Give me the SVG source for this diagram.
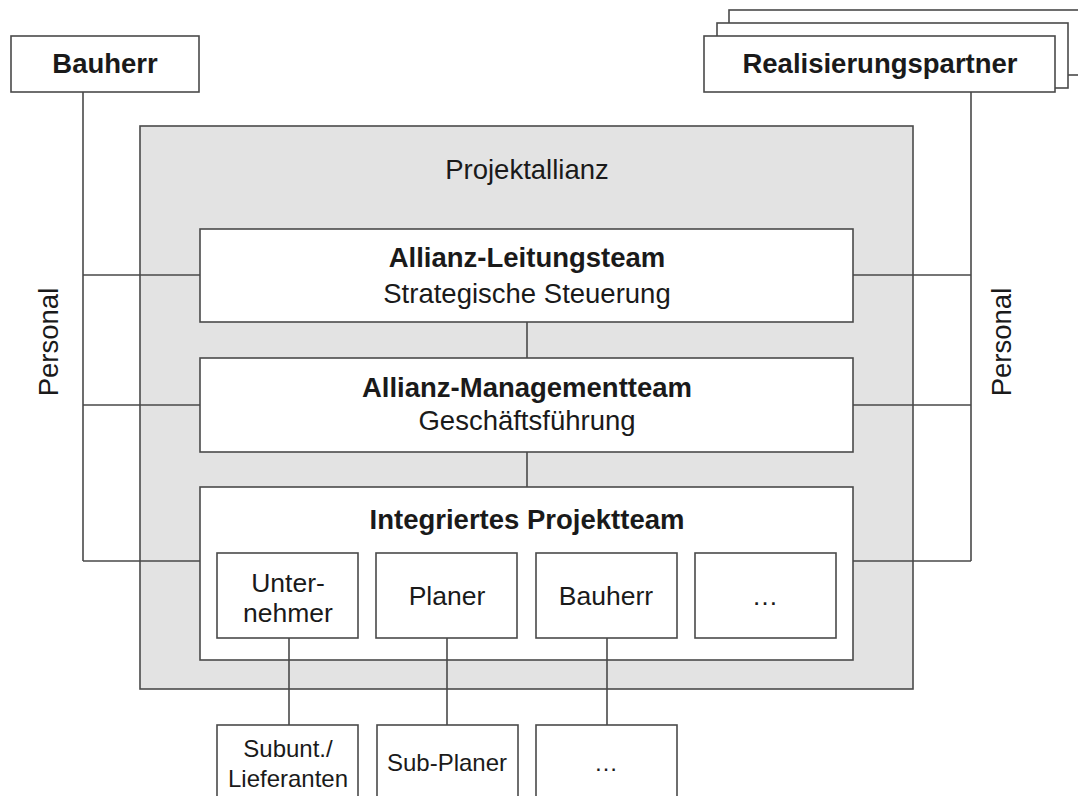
<svg xmlns="http://www.w3.org/2000/svg" width="1078" height="796" viewBox="0 0 1078 796">
<style>
.box{fill:#ffffff;stroke:#4a4a4a;stroke-width:1.6}
.gray{fill:#e3e3e3;stroke:#4a4a4a;stroke-width:1.6}
.ln{fill:none;stroke:#4a4a4a;stroke-width:1.6}
text{font-family:"Liberation Sans",Arial,sans-serif;fill:#1a1a1a;text-anchor:middle}
.t{font-size:27.5px}
.b{font-size:27.5px;font-weight:bold}
.m{font-size:26.5px}
.s{font-size:24px}
</style>
<rect width="1078" height="796" fill="#ffffff"/>
<g id="projektallianz">
<rect class="gray" x="140" y="126" width="773" height="563"/>
<text class="t" x="527" y="179">Projektallianz</text>
</g>
<g id="bauherr">
<rect class="box" x="11" y="36" width="188" height="56"/>
<text class="b" x="105" y="73">Bauherr</text>
</g>
<g id="realisierungspartner">
<rect class="box" x="729" y="10" width="360" height="65"/>
<rect class="box" x="717" y="23" width="351" height="65"/>
<rect class="box" x="704" y="36" width="351" height="56"/>
<text class="b" x="880" y="73">Realisierungspartner</text>
</g>
<g id="personal-left">
<text class="t" transform="translate(58,342) rotate(-90)">Personal</text>
</g>
<g id="personal-right">
<text class="t" transform="translate(1011,342) rotate(-90)">Personal</text>
</g>
<g id="leitungsteam">
<rect class="box" x="200" y="229" width="653" height="93"/>
<text class="b" x="527" y="267">Allianz-Leitungsteam</text>
<text class="t" x="527" y="303">Strategische Steuerung</text>
</g>
<g id="managementteam">
<rect class="box" x="200" y="358" width="653" height="94"/>
<text class="b" x="527" y="397">Allianz-Managementteam</text>
<text class="t" x="527" y="430">Geschäftsführung</text>
</g>
<g id="projektteam">
<rect class="box" x="200" y="487" width="653" height="173"/>
<text class="b" x="527" y="529">Integriertes Projektteam</text>
</g>
<g id="unternehmer">
<rect class="box" x="217" y="553" width="141" height="85"/>
<text class="m" x="288" y="592">Unter-</text>
<text class="m" x="288" y="622">nehmer</text>
</g>
<g id="planer">
<rect class="box" x="376" y="553" width="141" height="85"/>
<text class="m" x="447" y="605">Planer</text>
</g>
<g id="bauherr-team">
<rect class="box" x="536" y="553" width="141" height="85"/>
<text class="m" x="606" y="605">Bauherr</text>
</g>
<g id="weitere-team">
<rect class="box" x="695" y="553" width="141" height="85"/>
<text class="m" x="765" y="605">…</text>
</g>
<g id="subunternehmer">
<rect class="box" x="217" y="725" width="141" height="90"/>
<text class="s" x="288" y="757">Subunt./</text>
<text class="s" x="288" y="787">Lieferanten</text>
</g>
<g id="subplaner">
<rect class="box" x="377" y="725" width="141" height="90"/>
<text class="s" x="447" y="771">Sub-Planer</text>
</g>
<g id="weitere-sub">
<rect class="box" x="536" y="725" width="141" height="90"/>
<text class="s" x="606" y="771">…</text>
</g>
<g id="connectors">
<path class="ln" d="M83,92 V561 M83,275 H200 M83,405 H200 M83,561 H200"/>
<path class="ln" d="M971,92 V561 M853,275 H971 M853,405 H971 M853,561 H971"/>
<path class="ln" d="M527,322 V358 M527,452 V487"/>
<path class="ln" d="M289,638 V725 M447,638 V725 M607,638 V725"/>
</g>
</svg>
